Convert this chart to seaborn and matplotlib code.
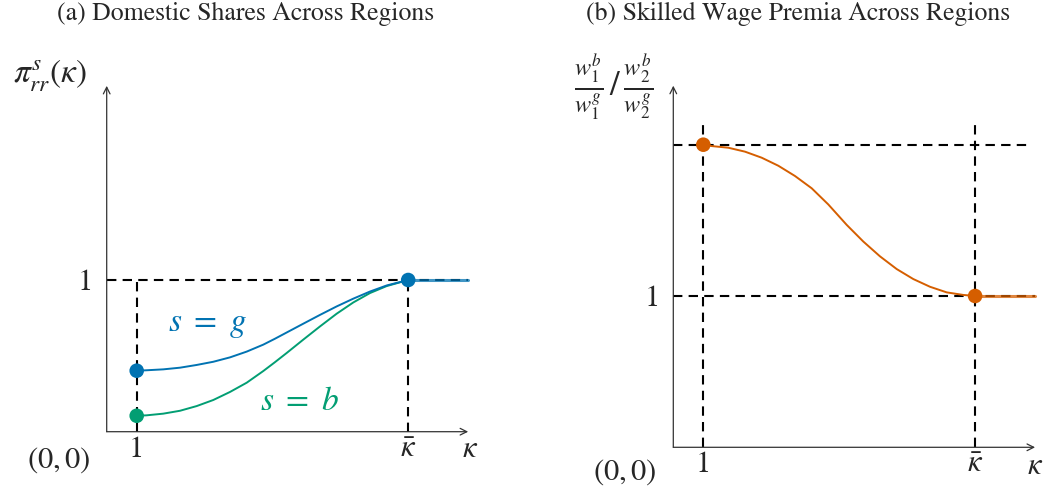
import numpy as np
import pandas as pd
import seaborn as sb
from matplotlib import pyplot as plt

# values (x in units of kappa, y in units of the "1" level)
kbar = 10.05

kappa_g = [1.0, 1.333, 1.887, 2.443, 3.0, 3.553, 4.11, 4.667, 5.22, 5.6, 6.0, 6.553, 7.11, 7.667, 8.22, 8.777, 9.333, 10.05]
share_g = [0.402, 0.405, 0.411, 0.422, 0.440, 0.461, 0.490, 0.528, 0.574, 0.612, 0.654, 0.712, 0.770, 0.826, 0.877, 0.924, 0.964, 1.0]

kappa_b = [1.0, 1.333, 1.887, 2.443, 3.0, 3.553, 4.11, 4.667, 5.22, 5.6, 6.0, 6.553, 7.11, 7.667, 8.22, 8.777, 9.333, 10.05]
share_b = [0.105, 0.108, 0.119, 0.138, 0.169, 0.209, 0.262, 0.323, 0.400, 0.457, 0.519, 0.607, 0.694, 0.778, 0.852, 0.914, 0.960, 1.0]

kappa_w = [1.0, 1.28, 1.833, 2.39, 2.947, 3.5, 4.057, 4.613, 5.167, 5.78, 6.333, 6.89, 7.447, 8.0, 8.557, 9.113, 9.667, 10.06]
premia = [2.0, 1.991, 1.980, 1.954, 1.914, 1.861, 1.793, 1.712, 1.605, 1.470, 1.360, 1.262, 1.178, 1.112, 1.061, 1.024, 1.007, 1.0]

kappa_flat = [10.05, 12.05]
level_flat = [1.0, 1.0]
premia_top = 2.0

pal = sb.color_palette('colorblind')
blue, green, orange = pal[0], pal[2], pal[3]

sb.set_theme(style='white')
plt.rcParams['font.family'] = ['STIXGeneral', 'DejaVu Serif']
plt.rcParams['mathtext.fontset'] = 'stix'

W, H = 1049, 499
fig = plt.figure(figsize=(W / 100, H / 100), dpi=100)


def place(x0, y0, sx, sy, xlim, ylim):
    # put an axes so that data (0,0) sits at pixel (x0,y0), sx/sy px per unit
    left = (x0 + xlim[0] * sx) / W
    width = (xlim[1] - xlim[0]) * sx / W
    bottom = 1 - (y0 - ylim[0] * sy) / H
    height = (ylim[1] - ylim[0]) * sy / H
    ax = fig.add_axes([left, bottom, width, height])
    ax.set_xlim(xlim)
    ax.set_ylim(ylim)
    for s in ax.spines.values():
        s.set_visible(False)
    ax.spines['bottom'].set_position(('data', 0))
    ax.spines['left'].set_position(('data', 0))
    ax.tick_params(length=0, labelsize=22)
    ax.tick_params(axis='x', pad=3)
    ax.tick_params(axis='y', pad=10)
    ax.set_xlabel('')
    ax.set_ylabel('')
    return ax


def arrows(ax, xend, yend):
    kw = dict(arrowstyle='->', lw=0.9, color='#333333', shrinkA=0, shrinkB=0)
    ax.annotate('', xy=(xend, 0), xytext=(0, 0), arrowprops=kw)
    ax.annotate('', xy=(0, yend), xytext=(0, 0), arrowprops=kw)


dash = dict(color='black', lw=1.5, dashes=(4.5, 3))

# ---- (a) domestic shares
ax1 = place(106.7, 431.7, 30, 151.7, (-3, 12.5), (-0.35, 2.6))
arrows(ax1, 12.05, 2.28)
ax1.plot([0, 12.05], [1, 1], **dash)
ax1.plot([1, 1], [0, 1], **dash)
ax1.plot([kbar, kbar], [0, 1], **dash)
sb.lineplot(x=kappa_b, y=share_b, color=green, lw=1.4, ax=ax1)
sb.lineplot(x=kappa_g, y=share_g, color=blue, lw=1.4, ax=ax1)
ax1.plot(kappa_flat, level_flat, color=blue, lw=2.2, alpha=0.75)
sb.scatterplot(x=[kappa_g[0], kappa_g[-1]], y=[share_g[0], share_g[-1]], color=blue, s=110, edgecolor='none', ax=ax1, zorder=5)
sb.scatterplot(x=[kappa_b[0]], y=[share_b[0]], color=green, s=110, edgecolor='none', ax=ax1, zorder=5)
ax1.set_xticks([1, kbar], ['1', r'$\bar{\kappa}$'])
ax1.set_yticks([1], ['1'])
ax1.text(3.38, 0.70, r'$s\ =\ g$', color=blue, fontsize=24, ha='center', va='center')
ax1.text(6.44, 0.196, r'$s\ =\ b$', color=green, fontsize=24, ha='center', va='center')
ax1.text(-1.6, -0.19, r'$(0,0)$', fontsize=22, ha='center', va='center')
ax1.text(12.1, -0.12, r'$\kappa$', fontsize=22, ha='center', va='center')
ax1.text(-1.9, 2.35, r'$\pi^s_{rr}(\kappa)$', fontsize=24, ha='center', va='center')

# ---- (b) skilled wage premia
ax2 = place(673.3, 447.3, 30, 151.3, (-3, 12.5), (-0.33, 2.7))
arrows(ax2, 12.06, 2.39)
ax2.plot([0, 11.95], [premia_top, premia_top], **dash)
ax2.plot([0, 12.05], [1, 1], **dash)
ax2.plot([1, 1], [0, 2.15], **dash)
ax2.plot([kbar, kbar], [0, 2.15], **dash)
sb.lineplot(x=kappa_w, y=premia, color=orange, lw=1.4, ax=ax2)
ax2.plot(kappa_flat, level_flat, color=orange, lw=2.2, alpha=0.75)
sb.scatterplot(x=[kappa_w[0], kappa_w[-1]], y=[premia[0], premia[-1]], color=orange, s=110, edgecolor='none', ax=ax2, zorder=5)
ax2.set_xticks([1, kbar], ['1', r'$\bar{\kappa}$'])
ax2.set_yticks([1], ['1'])
ax2.text(-1.61, -0.163, r'$(0,0)$', fontsize=22, ha='center', va='center')
ax2.text(12.06, -0.13, r'$\kappa$', fontsize=22, ha='center', va='center')
ax2.text(-1.98, 2.38, r'$\frac{w_1^b}{w_1^g}\,/\,\frac{w_2^b}{w_2^g}$', fontsize=25, ha='center', va='center')

fig.text(246 / W, 1 - 14 / H, '(a) Domestic Shares Across Regions', fontsize=18.5, ha='center', va='center')
fig.text(798 / W, 1 - 14 / H, '(b) Skilled Wage Premia Across Regions', fontsize=18.5, ha='center', va='center')

plt.savefig('out.png', dpi=100)
